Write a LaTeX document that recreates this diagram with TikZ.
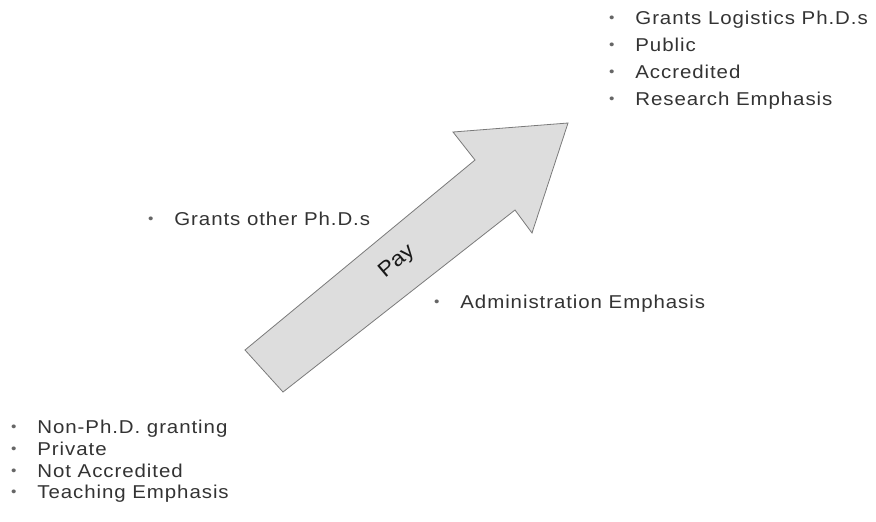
\documentclass[tikz,border=0pt]{standalone}
\usepackage{fontspec}
\newfontfamily\slidefont[FakeStretch=1.1, LetterSpace=5]{Liberation Sans}
\newfontfamily\payfont[FakeStretch=1.1]{Liberation Sans}
\definecolor{textgray}{HTML}{333333}
\definecolor{bulletgray}{HTML}{666666}
\definecolor{arrowfill}{HTML}{DDDDDD}
\definecolor{arrowline}{HTML}{7A7A7A}
\newcommand{\bul}{\llap{\raisebox{0.7pt}{\fontsize{7}{7}\selectfont\textcolor{bulletgray}{•}}\hspace{10.5pt}}}

\begin{document}
\begin{tikzpicture}[x=0.5pt, y=-0.5pt,
  item/.style={anchor=base west, inner sep=0pt, text=textgray, font=\slidefont\fontsize{9.3}{11}\selectfont}]
\useasboundingbox (0, 0) rectangle (876, 521);

% the big arrow
\draw[fill=arrowfill, draw=arrowline, line width=0.4pt, line join=miter]
  (245, 350) -- (283, 392) -- (515, 210) -- (532, 233) -- (568, 123)
  -- (453, 132) -- (475, 160) -- cycle;
\node[inner sep=0pt, rotate=40, text=black!90, font=\payfont\fontsize{10.5}{12}\selectfont] (pay) at (397, 262) {Pay};

% top right
\node[item] (logist) at (635, 24) {\bul Grants Logistics Ph.D.s};
\node[item] (public) at (635, 51) {\bul Public};
\node[item] (accred) at (635, 78) {\bul Accredited};
\node[item] (research) at (635, 105) {\bul Research Emphasis};

% middle
\node[item] (otherphd) at (174, 225) {\bul Grants other Ph.D.s};
\node[item] (admin) at (460, 308) {\bul Administration Emphasis};

% bottom left
\node[item] (nonphd) at (37, 433) {\bul Non-Ph.D. granting};
\node[item] (private) at (37, 455) {\bul Private};
\node[item] (notaccred) at (37, 477) {\bul Not Accredited};
\node[item] (teaching) at (37, 498) {\bul Teaching Emphasis};
\end{tikzpicture}
\end{document}
